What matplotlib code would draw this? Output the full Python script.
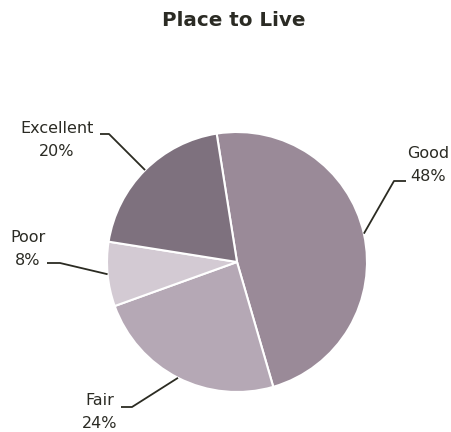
import numpy as np
import matplotlib.pyplot as plt

# ratings for "Place to Live"
labels = ['Good', 'Fair', 'Poor', 'Excellent']
values = [48, 24, 8, 20]
colors = ['#9a8a98', '#b5a8b5', '#d3cad3', '#7e717e']

# where each label block sits and where its leader line bends (pixels, y up)
text_pos = [(428, 267), (100, 20), (28, 183), (57, 292)]
elbows = [((394, 251), (406, 251)),
          ((132, 25), (121, 25)),
          ((60, 169), (47, 169)),
          ((109, 298), (100, 298))]

fig = plt.figure(figsize=(4.52, 4.32), dpi=100)
ax = fig.add_axes([0, 0, 1, 1])

cx, cy, r = 237, 170, 130
wedges, _ = ax.pie(values, colors=colors, startangle=99, counterclock=False,
                   center=(cx, cy), radius=r, frame=True,
                   wedgeprops=dict(edgecolor='white', linewidth=1.5))
ax.set_xlim(0, 452)
ax.set_ylim(0, 432)
ax.set_aspect('equal')
ax.axis('off')

for w, lab, v, (tx, ty), (p1, p2) in zip(wedges, labels, values, text_pos, elbows):
    ang = np.deg2rad((w.theta1 + w.theta2) / 2)
    ax0 = cx + r * np.cos(ang)
    ay0 = cy + r * np.sin(ang)
    ax.plot([ax0, p1[0], p2[0]], [ay0, p1[1], p2[1]], color='#2b2b22', lw=1.3,
            solid_capstyle='butt')
    ax.text(tx, ty, f'{lab}\n{v}%', ha='center', va='center', fontsize=11.5,
            color='#2b2b24', linespacing=1.72)

ax.text(234, 411, 'Place to Live', ha='center', va='center', fontsize=14.3,
        fontweight='bold', color='#2b2b24')

fig.savefig('out.png', dpi=100)
